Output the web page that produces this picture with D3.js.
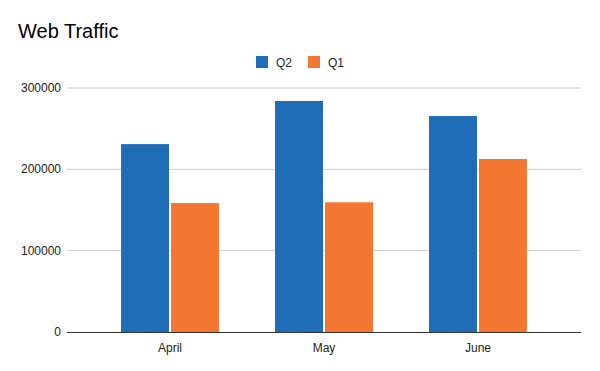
<!doctype html>
<html>
  <head>
    <script src="https://cdnjs.cloudflare.com/ajax/libs/d3/7.8.5/d3.min.js"></script>
  <style>
    body { margin: 0; background: #fff; }
    text { font-family: Arial, "Liberation Sans", sans-serif; fill: #222; }
    .grid line { stroke: #cccccc; }
    path.domain { stroke: none; }
  </style>
  </head>
  <body>
    <svg id="chart" width="600" height="371"></svg>
    <script>
      var months = ["April", "May", "June"];
      var seriesNames = ["Q2", "Q1"];
      var q2Values = [231000, 284000, 265500];
      var q1Values = [158500, 159500, 212700];
      var yTicks = [0, 100000, 200000, 300000];
      var colors = ["#1e6db6", "#f37731"];

      var data = months.map((m, i) => ({ month: m, Q2: q2Values[i], Q1: q1Values[i] }));

      var svg = d3.select("#chart");

      var xScale = d3.scaleBand().domain(months).range([67, 581])
        .paddingInner(0.364).paddingOuter(0.351);
      var xSub = d3.scaleBand().domain(seriesNames).range([0, xScale.bandwidth()]).paddingInner(0.04);
      var yScale = d3.scaleLinear().domain([0, 300000]).range([332, 88]);

      // gridlines
      svg.append("g").attr("class", "grid")
        .selectAll("line").data(yTicks.slice(1)).join("line")
          .attr("x1", 67).attr("x2", 581)
          .attr("y1", d => yScale(d)).attr("y2", d => yScale(d));

      // y labels
      svg.append("g").selectAll("text").data(yTicks).join("text")
        .attr("x", 61).attr("y", d => yScale(d) + 4)
        .attr("text-anchor", "end").style("font-size", "12px")
        .text(d => d);

      // bars
      var groups = svg.append("g").selectAll("g").data(data).join("g")
        .attr("transform", d => `translate(${xScale(d.month)},0)`);
      groups.selectAll("rect")
        .data(d => seriesNames.map((s, i) => ({ key: s, value: d[s], color: colors[i] })))
        .join("rect")
          .attr("x", d => xSub(d.key))
          .attr("width", xSub.bandwidth())
          .attr("y", d => yScale(d.value))
          .attr("height", d => yScale(0) - yScale(d.value))
          .attr("fill", d => d.color);

      // baseline
      svg.append("line").attr("x1", 67).attr("x2", 581)
        .attr("y1", yScale(0) + 0.5).attr("y2", yScale(0) + 0.5)
        .attr("stroke", "#333").attr("stroke-width", 1);

      // x axis labels
      var xAxis = d3.axisBottom(xScale).tickSize(0).tickPadding(11);
      var xg = svg.append("g").attr("transform", `translate(0,${yScale(0)})`).call(xAxis);
      xg.selectAll("text").style("font-size", "12px").attr("fill", "#222")
        .style("font-family", "Arial, 'Liberation Sans', sans-serif");

      // title
      svg.append("text").attr("x", 18).attr("y", 38)
        .style("font-size", "20px").style("fill", "#000").text("Web Traffic");

      // legend
      var legendX = [256, 308];
      var legend = svg.append("g").selectAll("g").data(seriesNames).join("g")
        .attr("transform", (d, i) => `translate(${legendX[i]},56)`);
      legend.append("rect").attr("width", 12).attr("height", 12)
        .attr("fill", (d, i) => colors[i]);
      legend.append("text").attr("x", 20).attr("y", 10.5)
        .style("font-size", "12px").text(d => d);
    </script>
  </body>
</html>
